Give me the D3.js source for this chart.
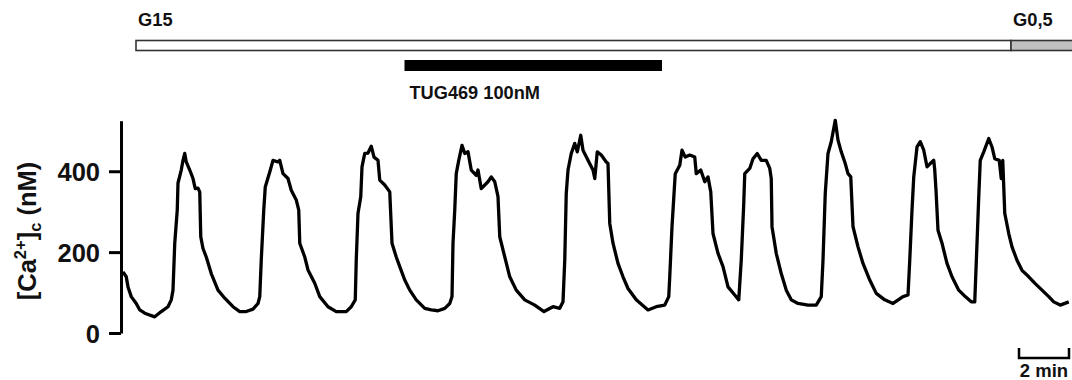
<!DOCTYPE html>
<html>
<head>
<meta charset="utf-8">
<script src="https://cdn.jsdelivr.net/npm/d3@7"></script>
<style>
  html, body { margin: 0; padding: 0; background: #fff; }
  #chart { width: 1072px; height: 380px; }
  text { font-family: "Liberation Sans", Arial, sans-serif; font-weight: bold; fill: #111; }
</style>
</head>
<body>
<div id="chart"></div>
<script>
// time in minutes, cytosolic Ca2+ in nM
const timeMin = [
  0.04, 0.17, 0.24, 0.37, 0.57, 0.71, 0.91, 1.31, 1.57, 1.84, 1.97, 2.04, 2.11, 2.21, 2.24, 2.37, 2.44, 2.51, 2.57, 2.71,
  2.84, 2.93, 3.04, 3.11, 3.15, 3.24, 3.37, 3.57, 3.84, 4.11, 4.44, 4.71, 4.97, 5.24, 5.44, 5.51, 5.57, 5.67, 5.73, 5.91,
  6.04, 6.24, 6.31, 6.44, 6.64, 6.77, 6.97, 7.07, 7.11, 7.31, 7.44, 7.71, 7.91, 8.24, 8.57, 8.97, 9.17, 9.33, 9.37, 9.44,
  9.55, 9.6, 9.71, 9.84, 9.97, 10.08, 10.24, 10.31, 10.51, 10.71, 10.8, 10.97, 11.11, 11.31, 11.51, 11.77, 12.11, 12.37, 12.64, 12.91,
  13.11, 13.2, 13.24, 13.31, 13.37, 13.47, 13.6, 13.71, 13.84, 13.97, 14.17, 14.24, 14.31, 14.37, 14.64, 14.77, 14.91, 15.04, 15.11, 15.31,
  15.51, 15.77, 16.11, 16.51, 16.88, 17.24, 17.51, 17.64, 17.71, 17.77, 17.84, 17.97, 18.11, 18.21, 18.35, 18.44, 18.64, 18.84, 18.91, 19.01,
  19.17, 19.37, 19.44, 19.51, 19.64, 19.84, 20.04, 20.24, 20.57, 21.04, 21.37, 21.71, 21.87, 21.91, 22.0, 22.13, 22.31, 22.4, 22.53, 22.71,
  22.91, 22.97, 23.15, 23.31, 23.44, 23.55, 23.64, 23.84, 24.04, 24.24, 24.51, 24.67, 24.77, 24.87, 24.91, 25.11, 25.24, 25.41, 25.57, 25.77,
  25.91, 25.97, 26.0, 26.17, 26.37, 26.57, 26.77, 27.04, 27.44, 27.77, 27.97, 28.04, 28.13, 28.24, 28.37, 28.53, 28.64, 28.77, 28.93, 29.04,
  29.15, 29.24, 29.44, 29.64, 29.91, 30.17, 30.51, 30.84, 31.24, 31.44, 31.51, 31.6, 31.67, 31.8, 31.93, 32.07, 32.2, 32.33, 32.47, 32.51,
  32.56, 32.64, 32.8, 33.0, 33.2, 33.47, 33.73, 33.97, 34.11, 34.2, 34.27, 34.33, 34.47, 34.67, 34.8, 34.91, 35.09, 35.17, 35.23, 35.31,
  35.47, 35.6, 35.8, 36.0, 36.27, 36.53, 36.8, 37.07, 37.27, 37.53, 37.87
];
const caNM = [
  151, 139, 114, 90, 73, 57, 49, 40, 53, 65, 82, 106, 222, 304, 371, 403, 427, 444, 423, 403,
  382, 357, 358, 349, 238, 209, 188, 147, 106, 86, 65, 53, 53, 59, 73, 90, 180, 304, 361, 398,
  427, 423, 427, 394, 382, 353, 329, 304, 222, 188, 156, 123, 90, 65, 53, 53, 65, 82, 180, 296,
  337, 411, 444, 445, 462, 435, 427, 378, 366, 349, 222, 188, 164, 131, 106, 82, 61, 57, 55, 61,
  73, 90, 222, 304, 394, 427, 464, 444, 448, 403, 390, 403, 378, 357, 374, 386, 374, 337, 238, 188,
  139, 106, 82, 69, 53, 65, 61, 77, 180, 345, 403, 444, 469, 448, 489, 452, 427, 403, 382, 448,
  440, 423, 419, 271, 222, 172, 139, 110, 82, 57, 65, 69, 90, 139, 263, 394, 415, 452, 435, 440,
  435, 394, 403, 374, 386, 349, 246, 197, 164, 114, 94, 82, 180, 320, 394, 407, 431, 444, 427, 427,
  407, 382, 263, 197, 147, 106, 82, 73, 69, 69, 90, 180, 345, 444, 473, 526, 477, 448, 419, 394,
  386, 263, 213, 172, 131, 98, 82, 73, 90, 94, 180, 304, 386, 460, 473, 452, 411, 419, 427, 403,
  353, 254, 222, 172, 139, 106, 90, 77, 77, 222, 337, 427, 448, 481, 460, 431, 427, 382, 427, 296,
  246, 213, 180, 155, 139, 122, 106, 90, 77, 69, 77
];

const yTicks = [0, 200, 400];

// perfusion bars (minutes)
const glucoseLabels = ['G15', 'G0,5'];
const glucoseStart = [0.56, 35.56];
const glucoseEnd = [35.56, 38];
const glucoseFill = ['#ffffff', '#c0c0c0'];

const drugLabel = 'TUG469 100nM';
const drugStart = 11.3;
const drugEnd = 21.6;

const scaleBarStart = 35.88;
const scaleBarLength = 2;
const scaleBarLabel = '2 min';

const width = 1072;
const height = 380;

const svg = d3
  .select('#chart')
  .append('svg')
  .attr('width', width)
  .attr('height', height);

const xScale = d3.scaleLinear().domain([0, 38]).range([122, 1072]);
const yScale = d3.scaleLinear().domain([0, 525]).range([333, 120.7]);

// glucose bar
const gluc = svg.append('g');
gluc
  .selectAll('rect')
  .data(glucoseLabels)
  .enter()
  .append('rect')
  .attr('x', (d, i) => xScale(glucoseStart[i]))
  .attr('y', 40.5)
  .attr('width', (d, i) => xScale(glucoseEnd[i]) - xScale(glucoseStart[i]) + (i === glucoseLabels.length - 1 ? 4 : 0))
  .attr('height', 10)
  .attr('fill', (d, i) => glucoseFill[i])
  .attr('stroke', '#333')
  .attr('stroke-width', 1.6);

gluc
  .selectAll('text')
  .data(glucoseLabels)
  .enter()
  .append('text')
  .attr('x', (d, i) => xScale(glucoseStart[i]) + 2)
  .attr('y', 26)
  .attr('font-size', 18.3)
  .text(d => d);

// drug bar
svg
  .append('rect')
  .attr('x', xScale(drugStart))
  .attr('y', 60)
  .attr('width', xScale(drugEnd) - xScale(drugStart))
  .attr('height', 11)
  .attr('fill', '#000');

svg
  .append('text')
  .attr('x', xScale(drugStart) + 5)
  .attr('y', 99)
  .attr('font-size', 18.2)
  .text(drugLabel);

// y axis
const yAxis = d3.axisLeft(yScale).tickValues(yTicks).tickSize(12).tickSizeOuter(0).tickPadding(9);

const yAxisG = svg
  .append('g')
  .attr('class', 'y axis')
  .attr('transform', 'translate(121, 0)')
  .call(yAxis);

yAxisG.selectAll('path, line').attr('stroke', '#000').attr('stroke-width', 3);
yAxisG
  .selectAll('text')
  .attr('font-size', 25.5)
  .attr('font-family', '"Liberation Sans", Arial, sans-serif')
  .attr('font-weight', 'bold')
  .attr('fill', '#111')
  .attr('dy', '0.36em');

// y label
const yLabel = svg
  .append('text')
  .attr('transform', 'translate(36, 231) rotate(-90)')
  .attr('text-anchor', 'middle')
  .attr('font-size', 25.5);
yLabel.append('tspan').text('[Ca');
yLabel.append('tspan').attr('font-size', 16.5).attr('dy', -10).text('2+');
yLabel.append('tspan').attr('dy', 10).text(']');
yLabel.append('tspan').attr('font-size', 16.5).attr('dy', 5).text('c');
yLabel.append('tspan').attr('dy', -5).text(' (nM)');

// trace
const line = d3
  .line()
  .x(d => xScale(d[0]))
  .y(d => yScale(d[1]));

svg
  .append('path')
  .datum(timeMin.map((t, i) => [t, caNM[i]]))
  .attr('d', line)
  .attr('fill', 'none')
  .attr('stroke', '#000')
  .attr('stroke-width', 3.3)
  .attr('stroke-linejoin', 'round');

// scale bar
const sbX0 = xScale(scaleBarStart);
const sbX1 = xScale(scaleBarStart + scaleBarLength);
svg
  .append('path')
  .attr('d', `M${sbX0},348 V358 H${sbX1} V348`)
  .attr('fill', 'none')
  .attr('stroke', '#000')
  .attr('stroke-width', 2.5);

svg
  .append('text')
  .attr('x', (sbX0 + sbX1) / 2)
  .attr('y', 377)
  .attr('text-anchor', 'middle')
  .attr('font-size', 18.5)
  .text(scaleBarLabel);
</script>
</body>
</html>
